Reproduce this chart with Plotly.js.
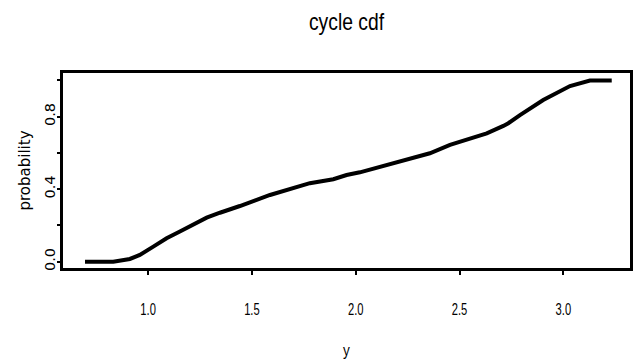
<!DOCTYPE html>
<html>
<head>
<meta charset="utf-8">
<script src="https://cdn.plot.ly/plotly-3.0.1.min.js"></script>
<style>
html,body{margin:0;padding:0;background:#fff;}
#chart{width:637px;height:360px;}
</style>
</head>
<body>
<div id="chart"></div>
<script>
// cumulative distribution of cycle length
var cycleY = [0.696, 0.832, 0.912, 0.960, 1.025, 1.089, 1.153, 1.217, 1.282, 1.346, 1.394,
              1.442, 1.587, 1.683, 1.731, 1.779, 1.892, 1.956, 2.020, 2.060, 2.117, 2.213,
              2.357, 2.454, 2.566, 2.631, 2.711, 2.735, 2.791, 2.903, 3.032, 3.128, 3.233];
var cycleProb = [0.000, 0.000, 0.015, 0.037, 0.083, 0.129, 0.166, 0.202, 0.243, 0.270, 0.291,
                 0.307, 0.368, 0.399, 0.414, 0.433, 0.455, 0.478, 0.493, 0.506, 0.524, 0.557,
                 0.598, 0.644, 0.681, 0.708, 0.749, 0.764, 0.809, 0.892, 0.969, 0.999, 1.000];

var xTickVals = [1.0, 1.5, 2.0, 2.5, 3.0];
var xTickText = ["1.0", "1.5", "2.0", "2.5", "3.0"];
var yTickVals = [0.0, 0.2, 0.4, 0.6, 0.8, 1.0];
var yTickText = ["0.0", "", "0.4", "", "0.8", ""];

var sans = "'Liberation Sans', Arial, Helvetica, sans-serif";
var wide = "'DejaVu Sans', 'Liberation Sans', Arial, sans-serif";

var trace = {
  x: cycleY,
  y: cycleProb,
  type: 'scatter',
  mode: 'lines',
  line: {color: '#000', width: 4},
  hoverinfo: 'none'
};

var layout = {
  width: 637,
  height: 360,
  paper_bgcolor: '#fff',
  plot_bgcolor: '#fff',
  showlegend: false,
  margin: {l: 63, r: 7, t: 73, b: 92},
  title: {
    text: 'cycle cdf',
    font: {family: sans, size: 23, color: '#000'},
    x: 0.5, xref: 'paper', xanchor: 'center',
    y: 0.939, yref: 'container', yanchor: 'middle'
  },
  xaxis: {
    range: [0.590, 3.321],
    tickmode: 'array',
    tickvals: xTickVals,
    ticktext: xTickText,
    ticks: 'outside',
    ticklen: 4,
    tickwidth: 2,
    tickcolor: '#000',
    ticklabelstandoff: 21,
    tickfont: {family: sans, size: 16, color: '#000'},
    showline: true,
    mirror: true,
    linecolor: '#000',
    linewidth: 3,
    showgrid: false,
    zeroline: false,
    title: {text: 'y', font: {family: sans, size: 17, color: '#000'}, standoff: 27}
  },
  yaxis: {
    range: [-0.035, 1.041],
    tickmode: 'array',
    tickvals: yTickVals,
    ticktext: yTickText,
    tickangle: -90,
    ticks: 'outside',
    ticklen: 3,
    tickwidth: 2,
    tickcolor: '#000',
    ticklabelstandoff: -4,
    tickfont: {family: wide, size: 14.5, color: '#000'},
    showline: true,
    mirror: true,
    linecolor: '#000',
    linewidth: 3,
    showgrid: false,
    zeroline: false,
    title: {text: 'probability', font: {family: wide, size: 15, color: '#000'}, standoff: 8}
  }
};

// horizontal text in the reference is condensed; squeeze it horizontally around its anchor
function squeeze(sel, s) {
  document.querySelectorAll(sel).forEach(function (el) {
    var cx = parseFloat(el.getAttribute('x')) || 0;
    var t = el.getAttribute('transform') || '';
    el.setAttribute('transform', t + ' translate(' + cx + ',0) scale(' + s + ',1) translate(' + (-cx) + ',0)');
  });
}

Plotly.newPlot('chart', [trace], layout, {staticPlot: true, displayModeBar: false}).then(function () {
  squeeze('.gtitle', 0.84);
  squeeze('.xtick text', 0.7);
  squeeze('.g-xtitle text', 0.8);
});
</script>
</body>
</html>
